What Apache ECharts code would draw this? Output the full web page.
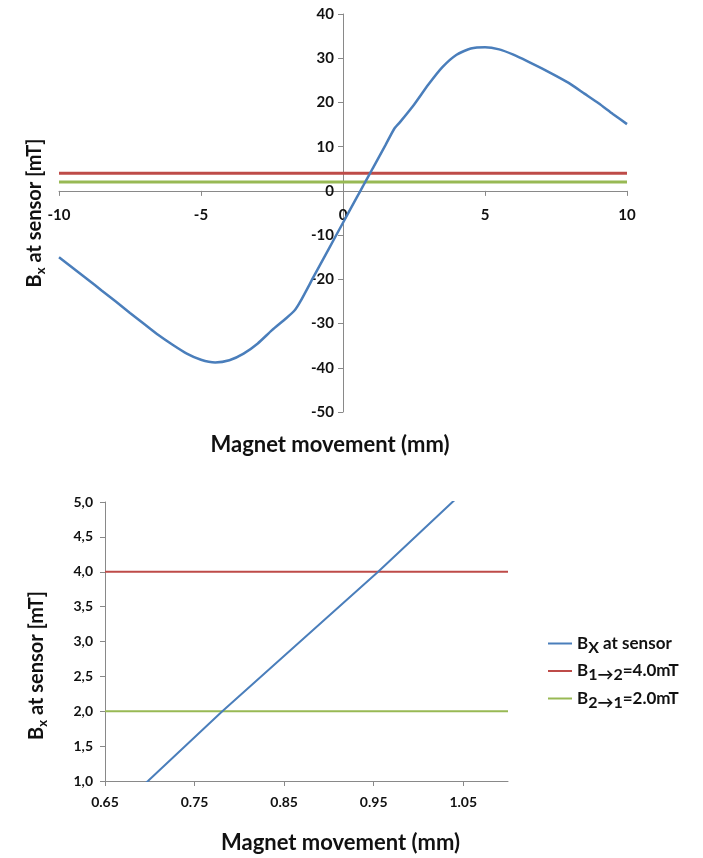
<!DOCTYPE html>
<html>
<head>
<meta charset="utf-8">
<script src="https://cdn.jsdelivr.net/npm/echarts@6/dist/echarts.min.js"></script>
<style>
  html, body { margin: 0; padding: 0; background: #fff; }
  #chart { width: 703px; height: 858px; }
</style>
</head>
<body>
<div id="chart"></div>
<script>
// magnet position (mm) and field at the sensor (mT)
const positionMm = [-10, -9.5, -9, -8.5, -8, -7.5, -7, -6.5, -6, -5.5, -5, -4.5, -4, -3.5, -3, -2.5, -2, -1.7, -1.5, -1, -0.5, 0, 0.5, 0.698, 0.781, 0.955, 1.038, 1.5, 1.8, 2, 2.5, 3, 3.5, 4, 4.5, 5, 5.5, 6, 6.5, 7, 7.5, 8, 8.5, 9, 9.5, 10];
const bxMt = [-15.0, -17.5, -20.0, -22.5, -25.0, -27.6, -30.1, -32.6, -34.8, -36.8, -38.2, -38.8, -38.3, -36.8, -34.5, -31.5, -28.8, -27.0, -25.0, -19.0, -13.1, -7.2, -1.3, 1.0, 2.0, 4.0, 5.0, 10.4, 14.0, 15.5, 19.5, 24.0, 28.0, 30.8, 32.2, 32.5, 32.0, 30.8, 29.3, 27.7, 26.0, 24.2, 22.0, 19.8, 17.4, 15.1];

const thresholdUp = 4.0;   // B 1->2
const thresholdDown = 2.0; // B 2->1

const topRangeMm = [-10, 10];
const topRangeMt = [-50, 40];
const zoomRangeMm = [0.65, 1.10];
const zoomTicksMm = [0.65, 0.75, 0.85, 0.95, 1.05];

const seriesNames = ['Bx at sensor', 'B1→2=4.0mT', 'B2→1=2.0mT'];

const BLUE = '#4a7ebb';
const RED = '#be4b48';
const GREEN = '#98b954';
const AXIS = '#898989';
const FONT = 'Lato, "Open Sans", sans-serif';

const curve = positionMm.map((x, i) => [x, bxMt[i]]);
const flat = (range, v) => range.map(x => [x, v]);

// top plot box; the axes cross at (0, 0) inside it
const TOP = { left: 59, right: 76, top: 14, bottom: 446 };
const topW = 703 - TOP.left - TOP.right;
const topH = 858 - TOP.top - TOP.bottom;
const zeroX = topW * (0 - topRangeMm[0]) / (topRangeMm[1] - topRangeMm[0]);
const zeroY = topH * (topRangeMt[1] - 0) / (topRangeMt[1] - topRangeMt[0]);

const nameRich = {
  n: { fontSize: 20, fontWeight: 'bold', fontFamily: FONT, color: '#111' },
  s: { fontSize: 13, fontWeight: 'bold', fontFamily: FONT, color: '#111', padding: [11, 0, 0, 0] }
};
const yName = '{n|B}{s|x}{n| at sensor [mT]}';
const xNameStyle = { fontSize: 22, fontWeight: 'bold', fontFamily: FONT, color: '#111' };

const axisLine = { onZero: false, lineStyle: { color: AXIS, width: 1 } };
const axisTick = { length: 5, lineStyle: { color: AXIS } };
const label = (size, margin) => ({ color: '#111', fontSize: size, fontWeight: 'bold', fontFamily: FONT, margin });

const chart = echarts.init(document.getElementById('chart'), null, { renderer: 'canvas' });

chart.setOption({
  animation: false,
  backgroundColor: '#fff',
  grid: [
    { ...TOP, containLabel: false, outerBoundsMode: 'none' },
    { left: 105, right: 195, top: 502, bottom: 77, containLabel: false, outerBoundsMode: 'none' }
  ],
  legend: {
    data: seriesNames,
    orient: 'vertical',
    left: 543,
    top: 630,
    itemWidth: 24,
    itemHeight: 2,
    itemGap: 7,
    icon: 'rect',
    formatter: name => {
      if (name === seriesNames[0]) return '{n|B}{s|X}{n| at sensor}';
      if (name === seriesNames[1]) return '{n|B}{s|1→2}{n|=4.0mT}';
      return '{n|B}{s|2→1}{n|=2.0mT}';
    },
    textStyle: {
      rich: {
        n: { fontSize: 17, fontWeight: 'bold', fontFamily: FONT, color: '#111' },
        s: { fontSize: 16, fontWeight: 'bold', fontFamily: FONT, color: '#111', padding: [8, 0, 0, 0] }
      }
    }
  },
  xAxis: [
    {
      type: 'value', gridIndex: 0,
      min: topRangeMm[0], max: topRangeMm[1], interval: 5,
      position: 'bottom',
      offset: -(topH - zeroY),
      axisLine,
      axisTick,
      axisLabel: label(15, 17),
      splitLine: { show: false },
      name: 'Magnet movement (mm)',
      nameLocation: 'middle',
      nameGap: 243,
      nameTextStyle: { ...xNameStyle, padding: [0, 26, 0, 0] }
    },
    {
      type: 'value', gridIndex: 1,
      min: zoomRangeMm[0], max: zoomRangeMm[1],
      axisLine,
      axisTick: { ...axisTick, customValues: zoomTicksMm },
      axisLabel: { ...label(14, 14), customValues: zoomTicksMm, formatter: v => v.toFixed(2) },
      splitLine: { show: false },
      name: 'Magnet movement (mm)',
      nameLocation: 'middle',
      nameGap: 51,
      nameTextStyle: { ...xNameStyle, padding: [0, 0, 0, 68] }
    }
  ],
  yAxis: [
    {
      type: 'value', gridIndex: 0,
      min: topRangeMt[0], max: topRangeMt[1], interval: 10,
      position: 'left',
      offset: -zeroX,
      axisLine,
      axisTick,
      axisLabel: label(15, 9),
      splitLine: { show: false },
      name: yName,
      nameLocation: 'middle',
      nameGap: 296,
      nameTextStyle: { rich: nameRich }
    },
    {
      type: 'value', gridIndex: 1,
      min: 1, max: 5, interval: 0.5,
      axisLine,
      axisTick,
      axisLabel: { ...label(14, 12), formatter: v => v.toFixed(1).replace('.', ',') },
      splitLine: { show: false },
      name: yName,
      nameLocation: 'middle',
      nameGap: 56,
      nameTextStyle: { rich: nameRich, padding: [0, 48, 0, 0] }
    }
  ],
  series: [
    { name: seriesNames[1], type: 'line', xAxisIndex: 0, yAxisIndex: 0, symbol: 'none', data: flat(topRangeMm, thresholdUp), lineStyle: { color: RED, width: 3 }, itemStyle: { color: RED } },
    { name: seriesNames[2], type: 'line', xAxisIndex: 0, yAxisIndex: 0, symbol: 'none', data: flat(topRangeMm, thresholdDown), lineStyle: { color: GREEN, width: 3 }, itemStyle: { color: GREEN } },
    { name: seriesNames[0], type: 'line', xAxisIndex: 0, yAxisIndex: 0, symbol: 'none', smooth: 0.2, data: curve, lineStyle: { color: BLUE, width: 2.5 }, itemStyle: { color: BLUE } },
    { name: seriesNames[1], type: 'line', xAxisIndex: 1, yAxisIndex: 1, symbol: 'none', data: flat(zoomRangeMm, thresholdUp), lineStyle: { color: RED, width: 2 }, itemStyle: { color: RED } },
    { name: seriesNames[2], type: 'line', xAxisIndex: 1, yAxisIndex: 1, symbol: 'none', data: flat(zoomRangeMm, thresholdDown), lineStyle: { color: GREEN, width: 2 }, itemStyle: { color: GREEN } },
    { name: seriesNames[0], type: 'line', xAxisIndex: 1, yAxisIndex: 1, symbol: 'none', clip: true, data: curve, lineStyle: { color: BLUE, width: 2 }, itemStyle: { color: BLUE } }
  ]
});
</script>
</body>
</html>
